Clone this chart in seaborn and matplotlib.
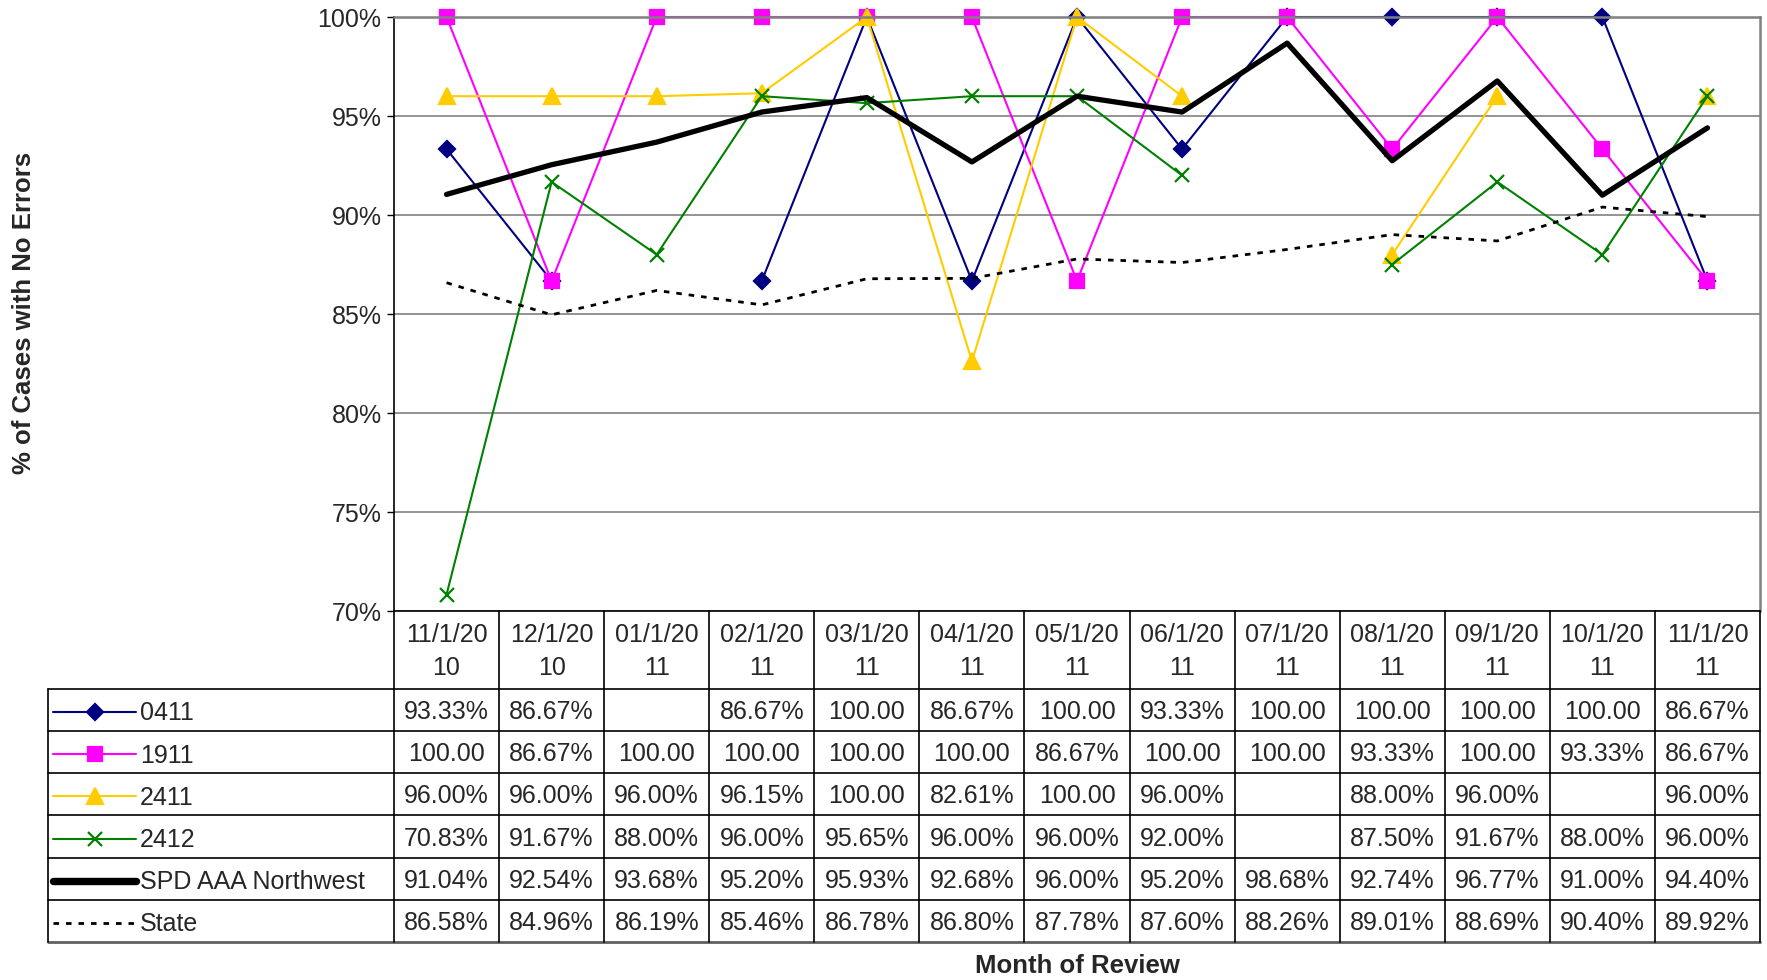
import numpy as np
import pandas as pd
import matplotlib
matplotlib.use("Agg")
import matplotlib.pyplot as plt
from matplotlib.ticker import PercentFormatter
import seaborn as sns

months = ["11/1/2010", "12/1/2010", "01/1/2011", "02/1/2011", "03/1/2011", "04/1/2011",
          "05/1/2011", "06/1/2011", "07/1/2011", "08/1/2011", "09/1/2011", "10/1/2011", "11/1/2011"]
nan = np.nan
s0411 = [93.33, 86.67, nan, 86.67, 100.00, 86.67, 100.00, 93.33, 100.00, 100.00, 100.00, 100.00, 86.67]
s1911 = [100.00, 86.67, 100.00, 100.00, 100.00, 100.00, 86.67, 100.00, 100.00, 93.33, 100.00, 93.33, 86.67]
s2411 = [96.00, 96.00, 96.00, 96.15, 100.00, 82.61, 100.00, 96.00, nan, 88.00, 96.00, nan, 96.00]
s2412 = [70.83, 91.67, 88.00, 96.00, 95.65, 96.00, 96.00, 92.00, nan, 87.50, 91.67, 88.00, 96.00]
spd = [91.04, 92.54, 93.68, 95.20, 95.93, 92.68, 96.00, 95.20, 98.68, 92.74, 96.77, 91.00, 94.40]
state = [86.58, 84.96, 86.19, 85.46, 86.78, 86.80, 87.78, 87.60, 88.26, 89.01, 88.69, 90.40, 89.92]

series_names = ["0411", "1911", "2411", "2412", "SPD AAA Northwest", "State"]
series_vals = [s0411, s1911, s2411, s2412, spd, state]

# styles: color, marker, markersize, linewidth, linestyle
styles = {
    "0411": dict(color="#000080", marker="D", ms=8, lw=1.5, ls="-"),
    "1911": dict(color="#FF00FF", marker="s", ms=10, lw=1.5, ls="-"),
    "2411": dict(color="#FFCC00", marker="^", ms=11, lw=1.5, ls="-"),
    "2412": dict(color="#008000", marker="x", ms=10, lw=1.5, ls="-"),
    "SPD AAA Northwest": dict(color="black", marker=None, ms=0, lw=3.8, ls="-"),
    "State": dict(color="black", marker=None, ms=0, lw=2.0, ls=(0, (2, 2.5))),
}

sns.set_style("white")
plt.rcParams["font.family"] = ["Liberation Sans", "DejaVu Sans"]

W, H = 1767, 980
fig = plt.figure(figsize=(W / 100, H / 100), dpi=100)

L, R, T, B = 394, 1760, 17, 611
ax = fig.add_axes([L / W, 1 - B / H, (R - L) / W, (B - T) / H])
tb_bottom = 942
tax = fig.add_axes([L / W, 1 - tb_bottom / H, (R - L) / W, (tb_bottom - B) / H])

# ---- main chart
for name, vals in zip(series_names, series_vals):
    st = styles[name]
    v = np.array(vals, dtype=float)
    d = pd.DataFrame({"idx": np.arange(len(v)), "val": v,
                      "seg": np.cumsum(np.isnan(v))})
    d = d.dropna()
    kw = dict(color=st["color"], lw=st["lw"], ls=st["ls"], clip_on=False)
    if st["marker"]:
        kw.update(marker=st["marker"], markersize=st["ms"], mec=st["color"],
                  mfc=st["color"], mew=1.6)
    sns.lineplot(data=d, x="idx", y="val", units="seg", estimator=None,
                 ax=ax, legend=False, **kw)

ax.set_xlim(-0.5, len(months) - 0.5)
ax.set_ylim(70, 100)
ax.set_yticks(np.arange(70, 101, 5))
ax.yaxis.set_major_formatter(PercentFormatter(decimals=0))
ax.yaxis.grid(True, color="#808080", lw=1.2)
ax.set_axisbelow(True)
ax.set_xticks([])
ax.set_xlabel("")
ax.set_ylabel("")
ax.tick_params(axis="y", direction="out", length=5, width=1, color="black",
               labelsize=18, pad=4, left=True)
for s in ["left", "bottom"]:
    ax.spines[s].set_color("black")
    ax.spines[s].set_linewidth(1.2)
for s in ["top", "right"]:
    ax.spines[s].set_color("#808080")
    ax.spines[s].set_linewidth(1.8)
ax.set_facecolor("white")

# ---- data table
n = len(months)
hdr = 78 / 42.2
tax.set_xlim(-0.5, n - 0.5)
tax.set_ylim(len(series_names), -hdr)
tax.axis("off")
col_w = (R - L) / n
lab_left = -0.5 - (L - 48) / col_w
lc = "black"
for r in range(len(series_names) + 1):
    last = r == len(series_names)
    tax.plot([lab_left, n - 0.5], [r, r], color="#606060" if last else lc,
             lw=2 if last else 1.2, clip_on=False)
for k in range(n + 1):
    tax.plot([k - 0.5, k - 0.5], [-hdr, len(series_names)], color=lc, lw=1.2, clip_on=False)
tax.plot([lab_left, lab_left], [0, len(series_names)], color=lc, lw=1.2, clip_on=False)

fs = 18
for k, m in enumerate(months):
    tax.text(k, -hdr / 2 + 0.03, m[:7] + "\n" + m[7:], ha="center", va="center",
             fontsize=fs, linespacing=1.45)

for r, (name, vals) in enumerate(zip(series_names, series_vals)):
    for k, v in enumerate(vals):
        if np.isnan(v):
            continue
        txt = "100.00" if v >= 100 else f"{v:.2f}%"
        tax.text(k, r + 0.55, txt, ha="center", va="center", fontsize=fs)
    st = styles[name]
    x0 = -0.5 - (L - 53) / col_w
    x1 = -0.5 - (L - 136) / col_w
    tax.plot([x0, x1], [r + 0.55, r + 0.55], color=st["color"],
             lw=st["lw"] * (1.4 if st["marker"] is None and st["lw"] > 3 else 1),
             ls=st["ls"], clip_on=False)
    if st["marker"]:
        tax.plot([(x0 + x1) / 2], [r + 0.55], marker=st["marker"], ms=st["ms"],
                 color=st["color"], mec=st["color"], mew=1.6, clip_on=False)
    tax.text(-0.5 - (L - 140) / col_w, r + 0.58, name, ha="left", va="center", fontsize=fs)

fig.text(24 / W, 1 - 313 / H, "% of Cases with No Errors", rotation=90, ha="center",
         va="center", fontsize=18.5, fontweight="bold")
fig.text(1077 / W, 1 - 966 / H, "Month of Review", ha="center", va="center",
         fontsize=18.5, fontweight="bold")

fig.savefig("out.png", dpi=100, facecolor="white")
